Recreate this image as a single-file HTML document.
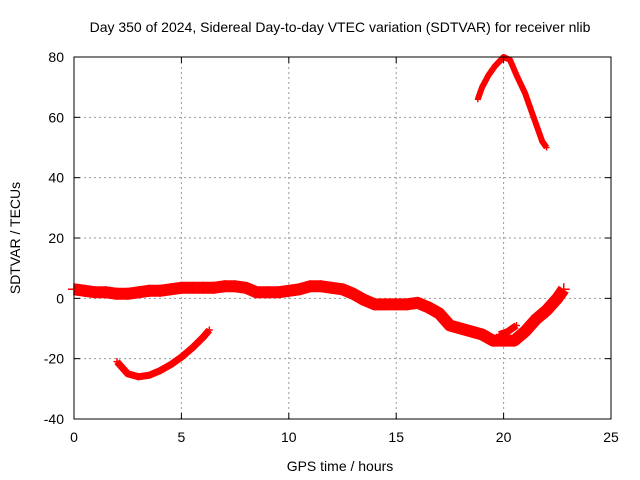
<!DOCTYPE html>
<html><head><meta charset="utf-8"><style>
body{margin:0;background:#fff}
svg{display:block;font-family:"Liberation Sans",sans-serif;font-size:14px}
</style></head><body>
<svg id="chart" width="640" height="480">
<text x="340" y="32" text-anchor="middle">Day 350 of 2024, Sidereal Day-to-day VTEC variation (SDTVAR) for receiver nlib</text>
<g id="grid"></g>
<g id="series"></g>
<rect x="74" y="57" width="537" height="362" fill="none" stroke="#000"/>
<g id="ticks"></g>
<text x="340" y="471" text-anchor="middle">GPS time / hours</text>
<text transform="translate(20,238) rotate(-90)" text-anchor="middle">SDTVAR / TECUs</text>
</svg>
<script>
const xTicks=[0,5,10,15,20,25];
const yTicks=[-40,-20,0,20,40,60,80];
const mainHours=[0,0.5,1,1.5,2,2.5,3,3.5,4,4.5,5,5.5,6,6.5,7,7.5,8,8.5,9,9.5,10,10.5,11,11.5,12,12.5,13,13.5,14,14.5,15,15.5,16,16.5,17,17.5,18,18.5,19,19.5,20,20.5,21,21.5,22,22.5,22.8];
const mainVals=[3,2.5,2,2,1.5,1.5,2,2.5,2.5,3,3.5,3.5,3.5,3.5,4,4,3.5,2,2,2,2.5,3,4,4,3.5,3,1.5,-0.5,-2,-2,-2,-2,-1.5,-3,-5,-9,-10,-11,-12,-14,-14,-14,-11,-7,-4,0,3];
const branchHours=[19.8,20.2,20.6];
const branchVals=[-12,-11,-9];
const lowHours=[2,2.5,3,3.5,4,4.5,5,5.5,6,6.3];
const lowVals=[-21,-25,-26,-25.5,-24,-22,-19.5,-16.5,-13,-10.5];
const topHours=[18.8,19,19.3,19.6,20,20.3,20.6,21,21.4,21.8,22];
const topVals=[66,70,74,77,80,79,74,68,60,52,50];
const NS="http://www.w3.org/2000/svg";
const X0=74,X1=611,Y0=419,Y1=57;
const sx=v=>X0+(v-0)/25*(X1-X0);
const sy=v=>Y0-(v+40)/120*(Y0-Y1);
const grid=document.getElementById('grid'),ticks=document.getElementById('ticks'),ser=document.getElementById('series');
function mk(tag,attrs,parent){const e=document.createElementNS(NS,tag);for(const k in attrs)e.setAttribute(k,attrs[k]);parent.appendChild(e);return e;}
xTicks.forEach(t=>{const x=sx(t);
 if(t>0&&t<25){const g=mk('line',{x1:x,x2:x,y1:Y1,y2:Y0,stroke:'#999','stroke-dasharray':'2,3'},grid);
 
 }
 mk('line',{x1:x,x2:x,y1:Y0,y2:Y0-6,stroke:'#000'},ticks);mk('line',{x1:x,x2:x,y1:Y1,y2:Y1+6,stroke:'#000'},ticks);
 const l=mk('text',{x:x,y:Y0+23,'text-anchor':'middle'},ticks);l.textContent=t;
 
 });
yTicks.forEach(t=>{const y=sy(t);
 if(t>-40&&t<80){const g=mk('line',{x1:X0,x2:X1,y1:y,y2:y,stroke:'#999','stroke-dasharray':'2,3'},grid);
 
 }
 mk('line',{x1:X0,x2:X0+6,y1:y,y2:y,stroke:'#000'},ticks);mk('line',{x1:X1,x2:X1-6,y1:y,y2:y,stroke:'#000'},ticks);
 const l=mk('text',{x:X0-10,y:y+5,'text-anchor':'end'},ticks);l.textContent=t;
 
 });
function series(hs,vs,w,name){
 const pts=hs.map((h,i)=>sx(h)+','+sy(vs[i])).join(' ');
 const p=mk('polyline',{points:pts,fill:'none',stroke:'#f00','stroke-width':w,'stroke-linejoin':'round','stroke-linecap':'butt'},ser);
 
 
 hs.forEach((h,i)=>{const x=sx(h),y=sy(vs[i]),s=w/2;
  const m=mk('path',{d:`M${x-s},${y}H${x+s}M${x},${y-s}V${y+s}`,stroke:'#f00','stroke-width':1.5},ser);
  
  });
}
series(mainHours,mainVals,12,'main-series');
series(branchHours,branchVals,7,'branch-series');
series(lowHours,lowVals,7,'low-arc-series');
series(topHours,topVals,6,'top-arc-series');
</script>
</body></html>
